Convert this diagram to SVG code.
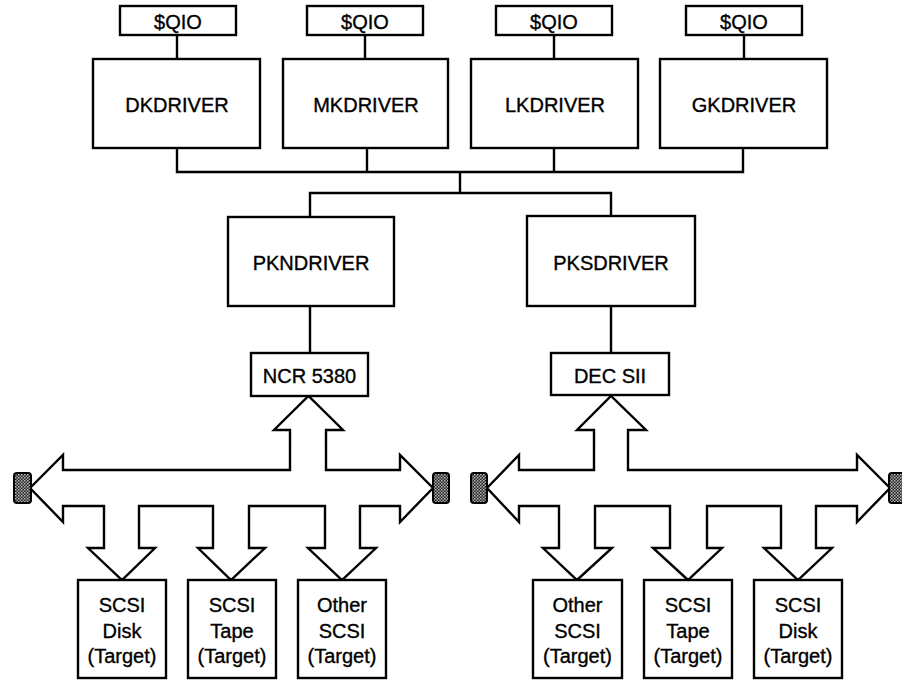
<svg xmlns="http://www.w3.org/2000/svg" width="902" height="681" viewBox="0 0 902 681">
<style>
.box{fill:#fff;stroke:#000;stroke-width:2.4}
.ln{fill:none;stroke:#000;stroke-width:2.4}
.bus{fill:#fff;stroke:#000;stroke-width:2.4;stroke-linejoin:miter}
.term{fill:url(#stip);stroke:#000;stroke-width:2}
text{font-family:"Liberation Sans",Arial,sans-serif;font-size:20px;fill:#000;stroke:#000;stroke-width:0.35;text-anchor:middle}
</style>
<defs>
<pattern id="stip" width="3" height="3" patternUnits="userSpaceOnUse">
<rect width="3" height="3" fill="#222"/>
<rect width="1.5" height="1.5" fill="#bbb"/>
<rect x="1.5" y="1.5" width="1.5" height="1.5" fill="#999"/>
</pattern>
</defs>
<g id="connectors">
<path class="ln" d="M177,35V59M365,35V59M554,35V59M744,35V59"/>
<path class="ln" d="M177,148V172H743V148M367,148V172M554,148V172M460,172V193M310,217V193H611V216"/>
<path class="ln" d="M310,306V353M611,306V353"/>
</g>
<g id="bus-left">
<polygon class="bus" points="30,488 63,455 63,470 290,470 290,430 274,430 308.5,396 343,430 326,430 326,470 400,470 400,455 433,488 400,522 400,506 360,506 360,548 376,548 342,580 308,548 325,548 325,506 249,506 249,548 265,548 231,580 198,548 213,548 213,506 139,506 139,548 155,548 122,580 88,548 104,548 104,506 63,506 63,522"/>
<rect class="term" x="14" y="473" width="17" height="30" rx="3"/>
<rect class="term" x="433" y="473" width="16" height="30" rx="3"/>
</g>
<g id="bus-right">
<polygon class="bus" points="487,488 519,455 519,470 594,470 594,430 577,430 611,396 646,430 628,430 628,470 857,470 857,455 890,488 857,522 857,506 816,506 816,548 832,548 798,580 764,548 781,548 781,506 707,506 707,548 722,548 688,580 653,548 670,548 670,506 595,506 595,548 612,548 577,580 543,548 559,548 559,506 519,506 519,522"/>
<rect class="term" x="471" y="473" width="16" height="30" rx="3"/>
<rect class="term" x="889" y="473" width="17" height="30" rx="3"/>
</g>
<g id="qio1"><rect class="box" x="120" y="6" width="116" height="29"/><text x="178" y="29">$QIO</text></g>
<g id="qio2"><rect class="box" x="307" y="6" width="116" height="29"/><text x="365" y="29">$QIO</text></g>
<g id="qio3"><rect class="box" x="496" y="6" width="116" height="29"/><text x="554" y="29">$QIO</text></g>
<g id="qio4"><rect class="box" x="686" y="6" width="116" height="29"/><text x="744" y="29">$QIO</text></g>
<g id="dkdriver"><rect class="box" x="93" y="59" width="167" height="89"/><text x="177" y="112">DKDRIVER</text></g>
<g id="mkdriver"><rect class="box" x="283" y="59" width="165" height="89"/><text x="366" y="112">MKDRIVER</text></g>
<g id="lkdriver"><rect class="box" x="471" y="59" width="167" height="89"/><text x="555" y="112">LKDRIVER</text></g>
<g id="gkdriver"><rect class="box" x="660" y="59" width="167" height="89"/><text x="744" y="112">GKDRIVER</text></g>
<g id="pkndriver"><rect class="box" x="228" y="217" width="166" height="89"/><text x="311" y="270">PKNDRIVER</text></g>
<g id="pksdriver"><rect class="box" x="527" y="216" width="168" height="90"/><text x="611" y="270">PKSDRIVER</text></g>
<g id="ncr5380"><rect class="box" x="251" y="353" width="117" height="43"/><text x="309.5" y="383">NCR 5380</text></g>
<g id="decsii"><rect class="box" x="551" y="353" width="118" height="42"/><text x="610" y="383">DEC SII</text></g>
<g id="t1"><rect class="box" x="78" y="580" width="88" height="98"/><text x="122" y="612">SCSI</text><text x="122" y="638">Disk</text><text x="122" y="663">(Target)</text></g>
<g id="t2"><rect class="box" x="188" y="580" width="88" height="98"/><text x="232" y="612">SCSI</text><text x="232" y="638">Tape</text><text x="232" y="663">(Target)</text></g>
<g id="t3"><rect class="box" x="298" y="580" width="88" height="98"/><text x="342" y="612">Other</text><text x="342" y="638">SCSI</text><text x="342" y="663">(Target)</text></g>
<g id="t4"><rect class="box" x="533" y="580" width="89" height="98"/><text x="577.5" y="612">Other</text><text x="577.5" y="638">SCSI</text><text x="577.5" y="663">(Target)</text></g>
<g id="t5"><rect class="box" x="644" y="580" width="88" height="98"/><text x="688" y="612">SCSI</text><text x="688" y="638">Tape</text><text x="688" y="663">(Target)</text></g>
<g id="t6"><rect class="box" x="754" y="580" width="88" height="98"/><text x="798" y="612">SCSI</text><text x="798" y="638">Disk</text><text x="798" y="663">(Target)</text></g>
</svg>
